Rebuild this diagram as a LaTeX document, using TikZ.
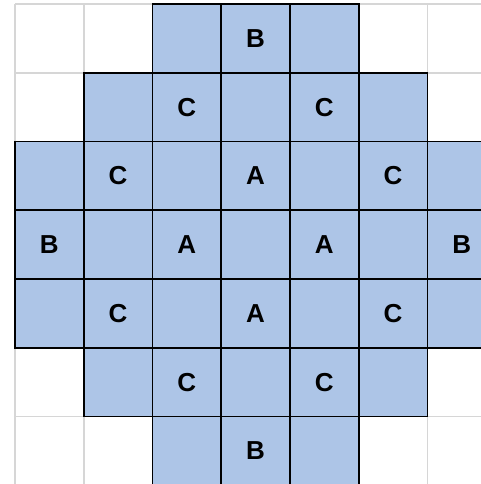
\documentclass[tikz,border=0pt]{standalone}
\usepackage{fontspec}
\setmainfont{Liberation Sans}
\definecolor{cellblue}{RGB}{173,197,231}
\definecolor{gridgrey}{RGB}{214,214,214}
\begin{document}
\begin{tikzpicture}[x=1pt,y=-1pt,
  gridline/.style={draw=gridgrey,line width=1.8pt},
  bluecell/.style={draw=black,fill=cellblue,line width=1.9pt,minimum size=68.75pt,inner sep=0pt,outer sep=0pt},
  letter/.style={font=\fontsize{26}{26}\selectfont\bfseries,inner sep=0pt},
]
\useasboundingbox (0,0) rectangle (481,484);
\begin{scope}
\clip (0,0) rectangle (481,484);
% grey grid
\foreach \i in {0,...,7} {
  \draw[gridline] (15+\i*68.75,4) -- (15+\i*68.75,484);
  \draw[gridline] (15,4+\i*68.75) -- (497,4+\i*68.75);
}
% blue cells: row / first col / last col
\foreach \r/\a/\b in {0/2/4,1/1/5,2/0/6,3/0/6,4/0/6,5/1/5,6/2/4} {
  \foreach \c in {\a,...,\b} {
    \node[bluecell] (cell-\r-\c) at (15+68.75*\c+34.375, 4+68.75*\r+34.375) {};
  }
}
\end{scope}
% labels
\foreach \r/\c/\t in {0/3/B,1/2/C,1/4/C,2/1/C,2/3/A,2/5/C,3/0/B,3/2/A,3/4/A,3/6/B,4/1/C,4/3/A,4/5/C,5/2/C,5/4/C,6/3/B} {
  \node[letter] (lab-\r-\c) at (cell-\r-\c.center) {\t};
}
\end{tikzpicture}
\end{document}
